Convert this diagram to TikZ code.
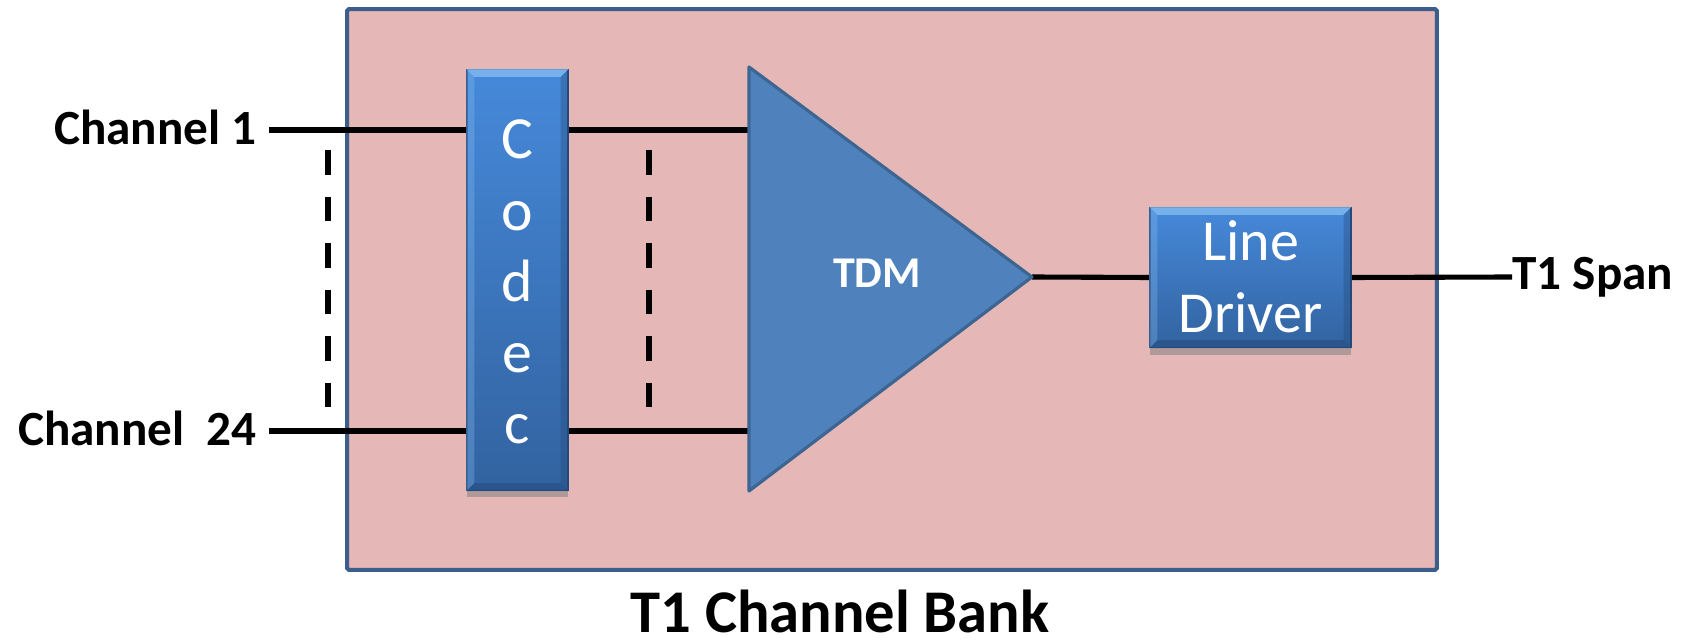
\documentclass[tikz,border=0pt]{standalone}
\usepackage{fontspec}
\setmainfont{Carlito}
\usetikzlibrary{shadows,calc}
\definecolor{bankfill}{HTML}{E5B7B6}
\definecolor{bankdraw}{HTML}{3B5E8A}
\definecolor{tdmfill}{HTML}{4F81BD}
\definecolor{tdmdraw}{HTML}{3C6591}
\definecolor{boxtop}{HTML}{4689DA}
\definecolor{boxbot}{HTML}{3263A0}
\definecolor{bevlight}{HTML}{8CC3F5}
\definecolor{bevdark}{HTML}{24497A}
\newcommand{\mybevel}[2]{%
  \fill[bevlight,opacity=.7] (#1.north west) -- (#1.north east) -- ($(#1.north east)+(-#2,#2)$) -- ($(#1.north west)+(#2,#2)$) -- cycle;
  \fill[bevlight,opacity=.3] (#1.north west) -- (#1.south west) -- ($(#1.south west)+(#2,-#2)$) -- ($(#1.north west)+(#2,#2)$) -- cycle;
  \fill[bevdark,opacity=.35] (#1.north east) -- (#1.south east) -- ($(#1.south east)+(-#2,-#2)$) -- ($(#1.north east)+(-#2,#2)$) -- cycle;
  \fill[bevdark,opacity=.5] (#1.south west) -- (#1.south east) -- ($(#1.south east)+(-#2,-#2)$) -- ($(#1.south west)+(#2,-#2)$) -- cycle;
}
\begin{document}
\begin{tikzpicture}[x=0.02cm,y=-0.02cm,
  wire/.style={line width=2.9pt},
  dashwire/.style={line width=2.9pt, dash pattern=on 14pt off 12.5pt},
  lbl/.style={font=\fontsize{28}{30}\selectfont\bfseries, inner sep=0pt},
  blockbox/.style={draw=bevdark, line width=0.8pt, top color=boxtop, bottom color=boxbot,
    drop shadow={opacity=0.3,shadow xshift=0pt,shadow yshift=-4pt}, text=white, inner sep=0pt, align=center},
]
\useasboundingbox (0,0) rectangle (1685,644);

% bank
\node[draw=bankdraw, fill=bankfill, line width=2.3pt, rounded corners=1pt,
      minimum width=21.8cm, minimum height=11.22cm, inner sep=0pt] (bank) at (892,289.5) {};

% labels
\node[lbl, anchor=east] (ch1) at (257,127) {Channel 1};
\node[lbl, anchor=east] (ch24) at (257,428) {Channel\ \ 24};
\node[lbl, anchor=west] (span) at (1512,277) {T1 Span};
\node[font=\fontsize{34.5}{36}\selectfont\bfseries, inner sep=0pt] (title) at (840,611) {T1 Channel Bank};

% coordinates
\coordinate (w1) at (269,130);
\coordinate (w24) at (269,431);
\coordinate (ttop) at (749,67);
\coordinate (tbot) at (749,491);
\coordinate (tip) at (1032,277);
\coordinate (tin1) at (749,130);
\coordinate (tin24) at (749,431);
\coordinate (d1a) at (328,150);
\coordinate (d1b) at (328,409);
\coordinate (d2a) at (649,150);
\coordinate (d2b) at (649,409);

% codec & line driver nodes
\node[blockbox, minimum width=2.02cm, minimum height=8.42cm] (codec) at (517.5,280) {};
\node[blockbox, minimum width=4.02cm, minimum height=2.8cm] (ld) at (1250.5,277.5) {};

% wires
\draw[wire] (w1) -- (w1 -| codec.west);
\draw[wire] (w24) -- (w24 -| codec.west);
\draw[wire] (w1 -| codec.east) -- (tin1);
\draw[wire] (w24 -| codec.east) -- (tin24);
\draw[dashwire] (d1a) -- (d1b);
\draw[dashwire] (d2a) -- (d2b);
\draw[wire] (tip) -- (ld.west);
\draw[wire] (ld.east) -- (span.west);

% TDM triangle
\filldraw[fill=tdmfill, draw=tdmdraw, line width=1.8pt, line join=round] (ttop) -- (tip) -- (tbot) -- cycle;
\node[text=white, font=\fontsize{25}{27}\selectfont\bfseries, inner sep=0pt] (tdm) at (877,273) {TDM};

% boxes on top of the wires
\node[blockbox, minimum width=2.02cm, minimum height=8.42cm] (codecb) at (codec) {};
\mybevel{codecb}{8}
\node[text=white, inner sep=0pt, align=center, font=\fontsize{34}{40.5}\selectfont] (codect) at (517.5,282) {C\\o\\d\\e\\c};
\node[blockbox, minimum width=4.02cm, minimum height=2.8cm] (ldb) at (ld) {};
\mybevel{ldb}{8}
\node[text=white, inner sep=0pt, align=center, font=\fontsize{33}{41}\selectfont] (ldt) at (1250.5,277) {Line\\Driver};
\end{tikzpicture}
\end{document}
